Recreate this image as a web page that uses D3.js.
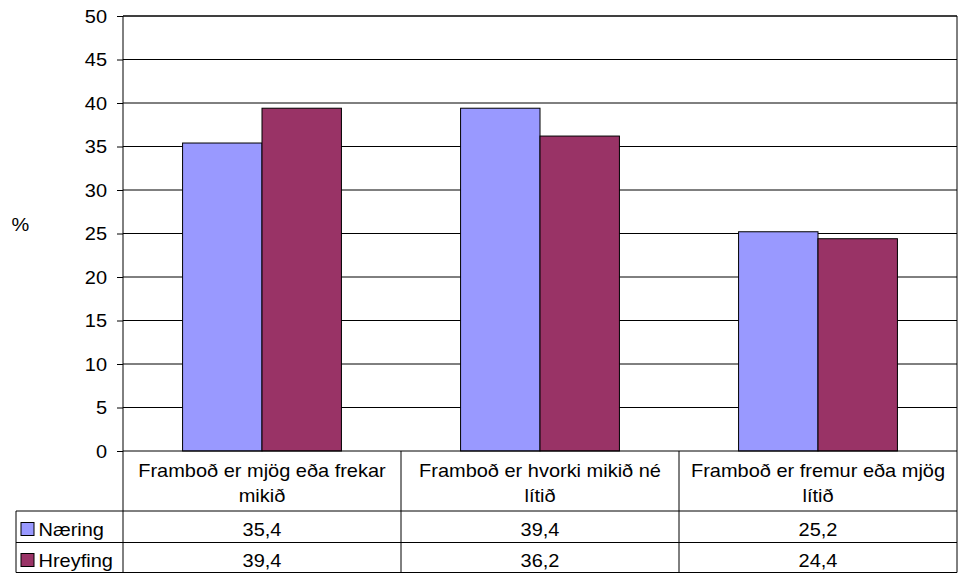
<!DOCTYPE html>
<html><head><meta charset="utf-8">
<script src="https://cdn.jsdelivr.net/npm/d3@7"></script>
<style>
body{margin:0;background:#fff;}
svg{display:block;font-family:"Liberation Sans",Arial,sans-serif;}
</style></head>
<body>
<svg id="c" width="958" height="577"></svg>
<script>
const categories = [["Framboð er mjög eða frekar","mikið"],["Framboð er hvorki mikið né","lítið"],["Framboð er fremur eða mjög","lítið"]];
const seriesNames = ["Næring","Hreyfing"];
const naering = [35.4, 39.4, 25.2];
const hreyfing = [39.4, 36.2, 24.4];
const seriesValues = [naering, hreyfing];
const valueLabels = [["35,4","39,4","25,2"],["39,4","36,2","24,4"]];
const colors = ["#9999FF","#993366"];
const yTicks = [0,5,10,15,20,25,30,35,40,45,50];

const svg = d3.select("#c");
const L=123, R=957, T=16, B=451;
const catIdx = categories.map((d,i)=>i);
const x = d3.scaleBand().domain(catIdx).range([L,R]).padding(0);
const xi = d3.scaleBand().domain(d3.range(seriesNames.length)).range([0,x.bandwidth()]).paddingInner(0).paddingOuter(0.75);
const y = d3.scaleLinear().domain([0,50]).range([B,T]);
const FS = 18, SX = 1.11;

function txt(g, tx, ty, s, anchor){
  return g.append("text").attr("transform",`translate(${tx},${ty}) scale(${SX},1)`)
    .attr("text-anchor",anchor||"middle").attr("font-size",FS).attr("fill","#000").text(s);
}

// gridlines
svg.append("g").selectAll("line").data(yTicks.filter(v=>v>0)).join("line")
  .attr("x1",L).attr("x2",R).attr("y1",d=>y(d)).attr("y2",d=>y(d))
  .attr("stroke","#000").attr("stroke-width",1);

// bars
const bars = svg.append("g");
seriesValues.forEach((vals,s)=>{
  bars.selectAll(null).data(vals).join("rect")
    .attr("x",(d,i)=>x(i)+xi(s)).attr("width",xi.bandwidth())
    .attr("y",d=>y(d)).attr("height",d=>y(0)-y(d))
    .attr("fill",colors[s]).attr("stroke","#000").attr("stroke-width",1);
});

// y axis
const ax = d3.axisLeft(y).tickValues(yTicks).tickSize(6).tickFormat(d3.format("d"));
const axg = svg.append("g").attr("transform",`translate(${L},0)`).call(ax);
axg.select(".domain").remove();
axg.selectAll(".tick line").attr("stroke","#000");
axg.selectAll(".tick text").remove();
axg.selectAll(".tick").each(function(d){
  const g = d3.select(this);
  g.append("text").attr("transform",`translate(-16,0) scale(${SX},1)`).attr("dy","0.36em")
   .attr("text-anchor","end").attr("font-size",FS).attr("fill","#000").text(d);
});
txt(svg, 20.5, 231, "%");

// frame / table lines
const rowTop = 511, rowMid = 542.5, rowBot = 572.5, legL = 16;
const lines = [
  [L,T,R,T],[R,T,R,rowBot],[L,T,L,rowBot],[L,B,R,B],
  [legL,rowTop,R,rowTop],[legL,rowMid,R,rowMid],[legL,rowBot,R,rowBot],
  [legL,rowTop,legL,rowBot]
];
catIdx.slice(1).forEach(i=>lines.push([x(i),B,x(i),rowBot]));
svg.append("g").selectAll("line").data(lines).join("line")
  .attr("x1",d=>d[0]).attr("y1",d=>d[1]).attr("x2",d=>d[2]).attr("y2",d=>d[3])
  .attr("stroke","#000").attr("stroke-width",1);

// category labels
const tg = svg.append("g");
categories.forEach((c,i)=>{
  const cx = x(i)+x.bandwidth()/2;
  txt(tg, cx, 476.5, c[0]);
  txt(tg, cx, 501.5, c[1]);
});
// value rows
const rowBase = [535.5, 566.5];
seriesNames.forEach((n,s)=>{
  valueLabels[s].forEach((v,i)=>txt(tg, x(i)+x.bandwidth()/2, rowBase[s], v));
  tg.append("rect").attr("x",21).attr("y",rowBase[s]-13).attr("width",13).attr("height",13)
    .attr("fill",colors[s]).attr("stroke","#000").attr("stroke-width",1);
  txt(tg, 38.5, rowBase[s], n, "start");
});
</script>
</body></html>
